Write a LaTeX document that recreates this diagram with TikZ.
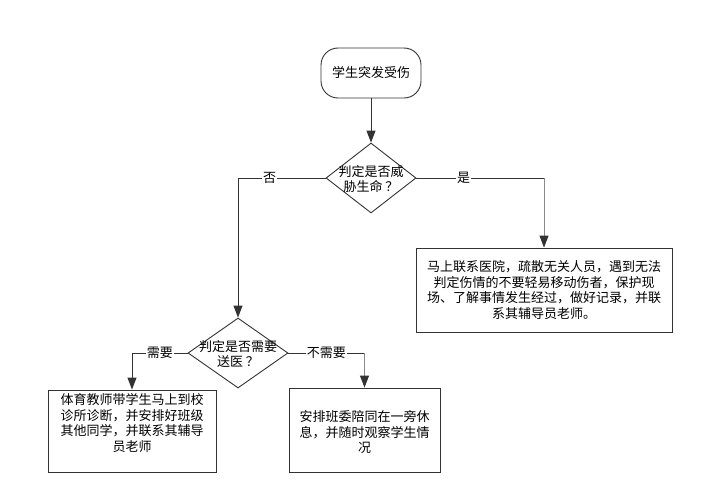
\documentclass[tikz,border=0pt]{standalone}
\usepackage{fontspec}
\setmainfont{Noto Sans CJK SC}
\usetikzlibrary{shapes.geometric,arrows.meta,positioning}
\definecolor{ln}{HTML}{333333}
\definecolor{gl}{HTML}{8A8A8A}
\tikzset{
  every node/.style={font=\fontsize{13}{15.5}\selectfont, text=black},
  box/.style={draw=ln, line width=0.9pt, rectangle, inner sep=0pt},
  startbox/.style={draw=ln, line width=0.9pt, rectangle, rounded corners=17pt, minimum width=100pt, minimum height=50pt, align=center},
  dia/.style={draw=ln, line width=0.9pt, diamond, inner sep=0pt},
  txt/.style={align=center, inner sep=0pt},
  conn/.style={draw=ln, line width=0.9pt},
  arr/.style={-{Triangle[length=12pt,width=9pt,color=ln]}},
  lbl/.style={fill=white, inner sep=1pt}
}
\begin{document}
\begin{tikzpicture}[x=1pt,y=-1pt]
\useasboundingbox[fill=white] (0,0) rectangle (703,503);
\node[startbox] (s) at (371,73) {学生突发受伤};
\node[dia, minimum width=90pt, minimum height=70pt] (d1) at (371,178) {};
\node[txt] (d1t) at (371,179) {判定是否威\\胁生命 ？};
\node[box, minimum width=256pt, minimum height=84pt] (b1) at (544,290) {};
\node[txt] (b1t) at (544,290) {马上联系医院，疏散无关人员，遇到无法\\判定伤情的不要轻易移动伤者，保护现\\场、了解事情发生经过，做好记录，并联\\系其辅导员老师。};
\node[dia, minimum width=100pt, minimum height=70pt] (d2) at (238,353) {};
\node[txt] (d2t) at (238,354) {判定是否需要\\送医 ？};
\node[box, minimum width=168pt, minimum height=82pt] (b2) at (132,431) {};
\node[txt] (b2t) at (132,423) {体育教师带学生马上到校\\诊所诊断，并安排好班级\\其他同学，并联系其辅导\\员老师};
\node[box, minimum width=151pt, minimum height=84pt] (b3) at (364.5,430) {};
\node[txt] (b3t) at (364.5,432) {安排班委陪同在一旁休\\息，并随时观察学生情\\况};
% connectors
\draw[conn, arr] (s.south) -- (d1.north);
\draw[conn, arr] (d1.west) -| node[lbl, pos=0.32] {否} (d2.north);
\coordinate (c1) at (b1.north |- d1.east);
\draw[conn] (d1.east) -- node[lbl, pos=0.37] {是} (c1);
\draw[conn, draw=gl, arr] (c1) -- (b1.north);
\draw[conn, arr] (d2.west) -| node[lbl, pos=0.25] {需要} (b2.north);
\coordinate (c2) at (b3.north |- d2.east);
\draw[conn] (d2.east) -- node[lbl, pos=0.5] {不需要} (c2);
\draw[conn, draw=gl, arr] (c2) -- (b3.north);
\end{tikzpicture}
\end{document}
